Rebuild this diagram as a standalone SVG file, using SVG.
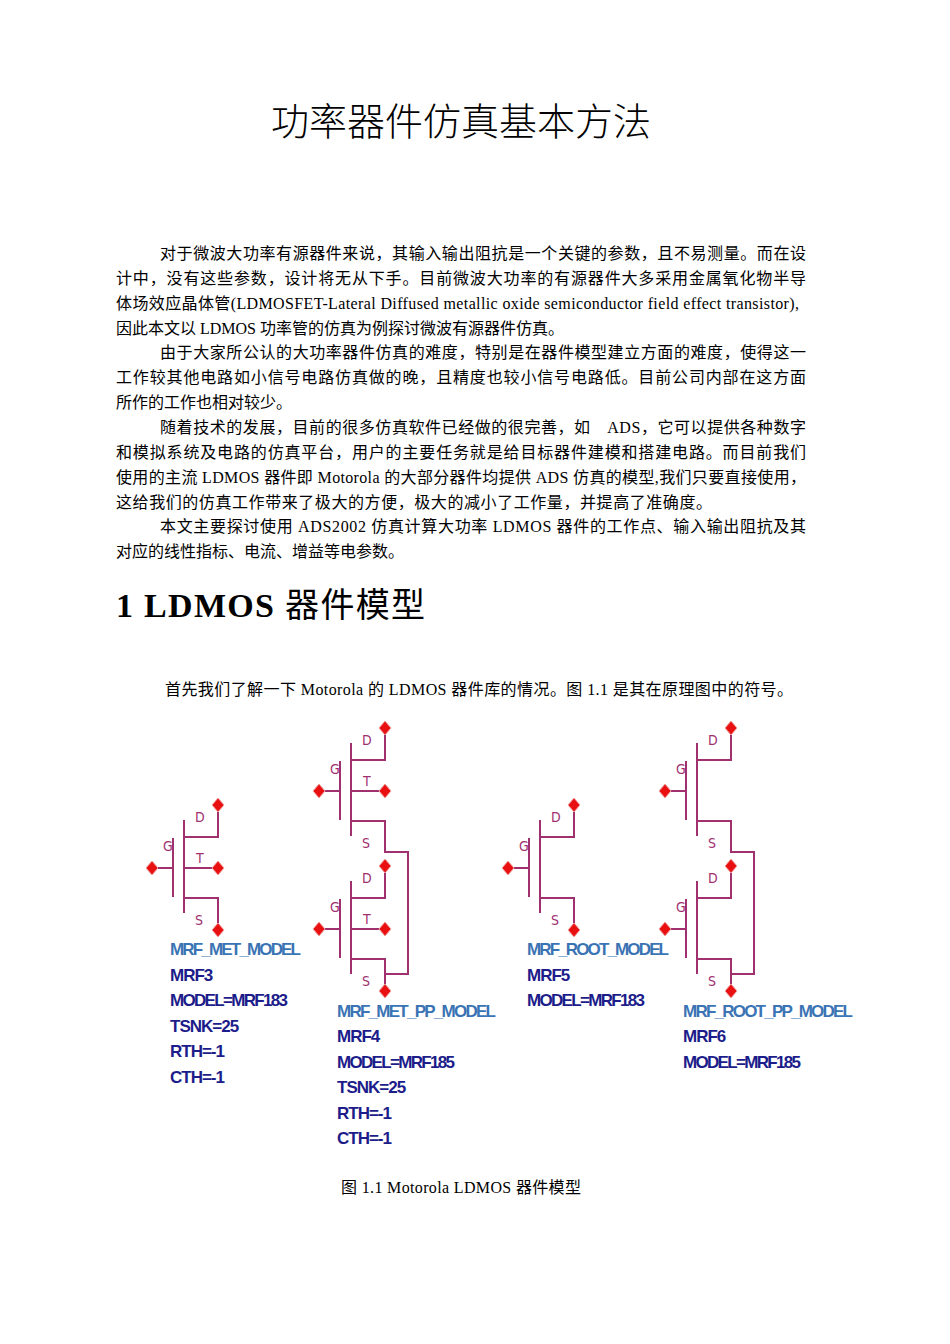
<svg xmlns="http://www.w3.org/2000/svg" width="950" height="1344" viewBox="0 0 950 1344">
<style>
.t{font-family:"Liberation Serif","Noto Sans CJK SC",serif;font-size:16px;fill:#000}
.w{stroke:#a0306e;stroke-width:2;fill:none}
.lb{font-family:"DejaVu Sans Condensed","DejaVu Sans",sans-serif;font-size:14px;fill:#a0306e}
.nm{font-family:"Liberation Sans",sans-serif;font-weight:bold;font-size:17px;fill:#3a74b4;letter-spacing:-1px}
.pr{font-family:"Liberation Sans",sans-serif;font-weight:bold;font-size:17px;fill:#1c1c8a;letter-spacing:-1px}
</style>
<defs>
<g id="pin"><path d="M-6,0 L0,-7 L6,0 L0,7Z" fill="#e81010" stroke="#f0a0a0" stroke-width="1"/></g>
<g id="fet">
<path class="w" d="M0,0H21M21,-30V29M32,-48V45M32,-31H66V-63M32,30H66V62"/>
<use href="#pin" x="0" y="0"/><use href="#pin" x="66" y="-63"/>
<text class="lb" x="43" y="-46">D</text><text class="lb" x="11" y="-17">G</text><text class="lb" x="43" y="57">S</text>
</g>
<g id="fetT">
<use href="#fet"/><path class="w" d="M32,0H66"/><use href="#pin" x="66" y="0"/>
<text class="lb" x="44" y="-5">T</text>
</g>
</defs>
<rect width="950" height="1344" fill="#fff"/>
<text x="461" y="135" text-anchor="middle" style="font-family:'Noto Sans CJK SC',serif;font-size:38px;font-weight:300">功率器件仿真基本方法</text>
<g class="t">
<text x="160" y="259" textLength="646" lengthAdjust="spacing">对于微波大功率有源器件来说，其输入输出阻抗是一个关键的参数，且不易测量。而在设</text>
<text x="116" y="284" textLength="690" lengthAdjust="spacing">计中，没有这些参数，设计将无从下手。目前微波大功率的有源器件大多采用金属氧化物半导</text>
<text x="116" y="309" textLength="683" lengthAdjust="spacing">体场效应晶体管(LDMOSFET-Lateral Diffused metallic oxide semiconductor field effect transistor),</text>
<text x="116" y="334">因此本文以 LDMOS 功率管的仿真为例探讨微波有源器件仿真。</text>
<text x="160" y="358" textLength="646" lengthAdjust="spacing">由于大家所公认的大功率器件仿真的难度，特别是在器件模型建立方面的难度，使得这一</text>
<text x="116" y="383" textLength="690" lengthAdjust="spacing">工作较其他电路如小信号电路仿真做的晚，且精度也较小信号电路低。目前公司内部在这方面</text>
<text x="116" y="408">所作的工作也相对较少。</text>
<text x="160" y="433" textLength="646" lengthAdjust="spacing">随着技术的发展，目前的很多仿真软件已经做的很完善，如　ADS，它可以提供各种数字</text>
<text x="116" y="458" textLength="690" lengthAdjust="spacing">和模拟系统及电路的仿真平台，用户的主要任务就是给目标器件建模和搭建电路。而目前我们</text>
<text x="116" y="483" textLength="690" lengthAdjust="spacing">使用的主流 LDMOS 器件即 Motorola 的大部分器件均提供 ADS 仿真的模型,我们只要直接使用，</text>
<text x="116" y="508" textLength="596" lengthAdjust="spacing">这给我们的仿真工作带来了极大的方便，极大的减小了工作量，并提高了准确度。</text>
<text x="160" y="532" textLength="646" lengthAdjust="spacing">本文主要探讨使用 ADS2002 仿真计算大功率 LDMOS 器件的工作点、输入输出阻抗及其</text>
<text x="116" y="557">对应的线性指标、电流、增益等电参数。</text>
<text x="165" y="695" textLength="628" lengthAdjust="spacing">首先我们了解一下 Motorola 的 LDMOS 器件库的情况。图 1.1 是其在原理图中的符号。</text>
<text x="341" y="1193" textLength="240" lengthAdjust="spacing">图 1.1 Motorola LDMOS 器件模型</text>
</g>
<text x="116" y="617" textLength="309" lengthAdjust="spacing" style="font-family:'Liberation Serif','Noto Sans CJK SC',serif;font-size:34px;font-weight:bold">1  LDMOS <tspan font-weight="normal">器件模型</tspan></text>
<g id="mrf3"><use href="#fetT" x="152" y="868"/>
<text class="nm" x="170" y="955" textLength="130">MRF_MET_MODEL</text><text class="pr" x="170" y="981">MRF3</text><text class="pr" x="170" y="1006" textLength="117">MODEL=MRF183</text><text class="pr" x="170" y="1032">TSNK=25</text><text class="pr" x="170" y="1057">RTH=-1</text><text class="pr" x="170" y="1083">CTH=-1</text></g>
<g id="mrf4"><use href="#fetT" x="319" y="791"/><use href="#fetT" x="319" y="929"/>
<text class="nm" x="337" y="1017" textLength="158">MRF_MET_PP_MODEL</text><text class="pr" x="337" y="1042">MRF4</text><text class="pr" x="337" y="1068" textLength="117">MODEL=MRF185</text><text class="pr" x="337" y="1093">TSNK=25</text><text class="pr" x="337" y="1119">RTH=-1</text><text class="pr" x="337" y="1144">CTH=-1</text></g>
<g id="mrf5"><use href="#fet" x="508" y="868"/>
<text class="nm" x="527" y="955" textLength="141">MRF_ROOT_MODEL</text><text class="pr" x="527" y="981">MRF5</text><text class="pr" x="527" y="1006" textLength="117">MODEL=MRF183</text></g>
<g id="mrf6"><use href="#fet" x="665" y="791"/><use href="#fet" x="665" y="929"/>
<text class="nm" x="683" y="1017" textLength="169">MRF_ROOT_PP_MODEL</text><text class="pr" x="683" y="1042">MRF6</text><text class="pr" x="683" y="1068" textLength="117">MODEL=MRF185</text></g>
<g id="connectors">
<path class="w" d="M385,821V852H408V974H385"/>
<path class="w" d="M731,821V852H754V974H731"/>
<use href="#pin" x="218" y="930"/><use href="#pin" x="574" y="930"/><use href="#pin" x="385" y="991"/><use href="#pin" x="731" y="991"/>
</g>
</svg>
